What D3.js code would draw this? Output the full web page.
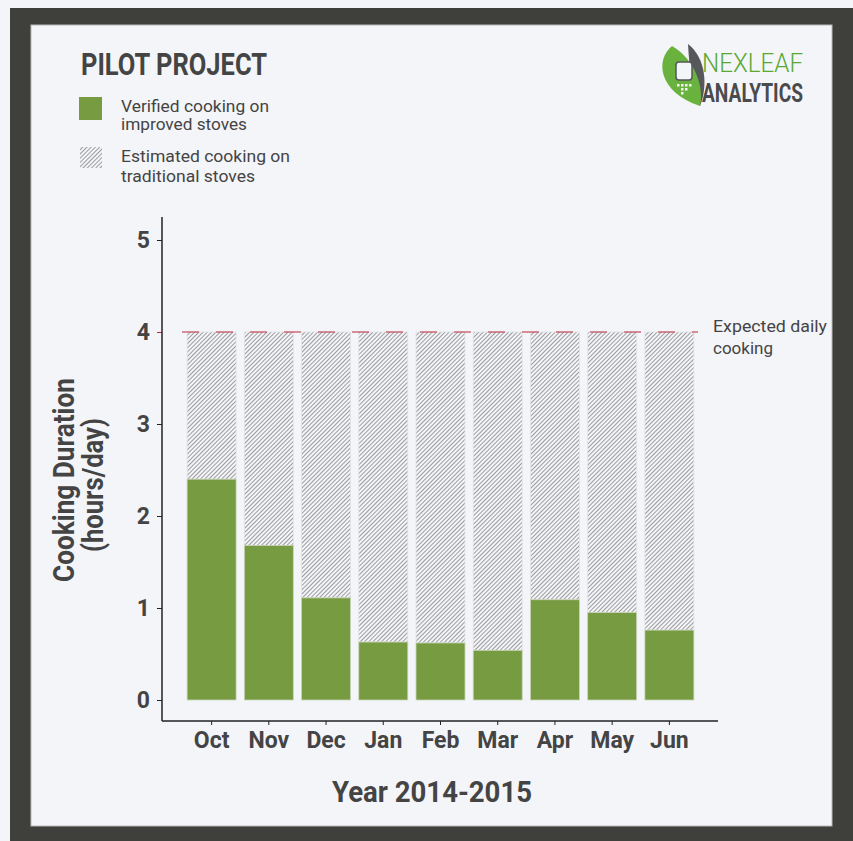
<!DOCTYPE html>
<html>
<head>
<meta charset="utf-8">
<script src="https://cdn.jsdelivr.net/npm/d3@7"></script>
<style>
  html, body { margin: 0; padding: 0; background: #f4f5f9; }
  svg { display: block; }
  text { font-family: Roboto, "Liberation Sans", sans-serif; fill: #444; }
</style>
</head>
<body>
<div id="container"></div>
<script>
const width = 853;
const height = 841;

// DATA
const months = ["Oct", "Nov", "Dec", "Jan", "Feb", "Mar", "Apr", "May", "Jun"];
const verified = [2.40, 1.68, 1.11, 0.63, 0.62, 0.54, 1.09, 0.95, 0.76];
const expectedDaily = 4;
const yTicks = [0, 1, 2, 3, 4, 5];

const green = "#769b40";
const dark = "#3f403c";
const panel = "#f4f5f9";

const svg = d3.select("div#container").append("svg")
    .attr("width", width)
    .attr("height", height);

// hatch pattern
const defs = svg.append("defs");
const pat = defs.append("pattern")
    .attr("id", "hatch")
    .attr("patternUnits", "userSpaceOnUse")
    .attr("width", 3)
    .attr("height", 3)
    .attr("patternTransform", "rotate(45)");
pat.append("rect").attr("width", 3).attr("height", 3).attr("fill", panel);
pat.append("line")
    .attr("x1", 0).attr("y1", 0).attr("x2", 0).attr("y2", 3)
    .attr("stroke", "#767676")
    .attr("stroke-width", 1.4);

// FRAME
svg.append("rect").attr("width", width).attr("height", height).attr("fill", panel);
svg.append("rect").attr("x", 10).attr("y", 8).attr("width", width - 10).attr("height", height - 8).attr("fill", dark);
svg.append("rect").attr("x", 31).attr("y", 25).attr("width", 801).attr("height", 801)
    .attr("fill", panel).attr("stroke", "#b9bab8").attr("stroke-width", 1);

// SCALES
const x = d3.scaleBand()
    .domain(months)
    .range([183, 698])
    .paddingInner(0.144)
    .paddingOuter(0.072);

const y = d3.scaleLinear()
    .domain([0, 5])
    .range([700, 240]);

// BARS
const bars = svg.append("g").selectAll("g")
    .data(months.map((m, i) => ({month: m, value: verified[i]})))
    .enter().append("g");

bars.append("rect")
    .attr("x", d => x(d.month))
    .attr("y", y(expectedDaily))
    .attr("width", x.bandwidth())
    .attr("height", d => y(d.value) - y(expectedDaily))
    .attr("fill", "url(#hatch)")
    .attr("stroke", "#e2e3e6")
    .attr("stroke-width", 0.8);

bars.append("rect")
    .attr("x", d => x(d.month))
    .attr("y", d => y(d.value))
    .attr("width", x.bandwidth())
    .attr("height", d => y(0) - y(d.value))
    .attr("fill", green)
    .attr("stroke", "#c9d3b8")
    .attr("stroke-width", 0.8);

// expected line
svg.append("line")
    .attr("x1", x.range()[0] - 1).attr("x2", x.range()[1])
    .attr("y1", y(expectedDaily)).attr("y2", y(expectedDaily))
    .attr("stroke", "#b8283f")
    .attr("stroke-width", 1.2)
    .attr("stroke-dasharray", "17,17");

svg.append("text")
    .attr("x", 713).attr("y", 332)
    .style("font-size", "16px")
    .attr("textLength", 114).attr("lengthAdjust", "spacingAndGlyphs")
    .text("Expected daily");
svg.append("text")
    .attr("x", 713).attr("y", 354)
    .style("font-size", "16px")
    .attr("textLength", 60).attr("lengthAdjust", "spacingAndGlyphs")
    .text("cooking");

// AXES
const yaxis = d3.axisLeft(y).tickValues(yTicks).tickFormat(d3.format("d"))
    .tickSize(5).tickPadding(7);
const gy = svg.append("g")
    .attr("transform", "translate(162,0)")
    .call(yaxis);
gy.select(".domain").remove();
gy.selectAll(".tick line").attr("stroke", d => d === expectedDaily ? "#b8283f" : "#222");
gy.selectAll(".tick text")
    .style("font-size", "23px").style("font-weight", "bold")
    .style("font-family", "Roboto, sans-serif")
    .attr("fill", "#444");

const xaxis = d3.axisBottom(x).tickSize(4).tickPadding(7);
const gx = svg.append("g")
    .attr("transform", "translate(0,721)")
    .call(xaxis);
gx.select(".domain").remove();
gx.selectAll(".tick line").attr("stroke", "#222");
gx.selectAll(".tick text")
    .style("font-size", "23px").style("font-weight", "bold")
    .style("font-family", "Roboto, sans-serif")
    .attr("fill", "#444");

svg.append("line").attr("x1", 162).attr("x2", 162).attr("y1", 217).attr("y2", 721)
    .attr("stroke", "#222").attr("stroke-width", 1.5);
svg.append("line").attr("x1", 162).attr("x2", 718).attr("y1", 721).attr("y2", 721)
    .attr("stroke", "#222").attr("stroke-width", 1.5);

// AXIS TITLES
svg.append("text")
    .attr("x", 432).attr("y", 802)
    .attr("text-anchor", "middle")
    .style("font-size", "29px").style("font-weight", "bold")
    .attr("textLength", 200).attr("lengthAdjust", "spacingAndGlyphs")
    .text("Year 2014-2015");

svg.append("text")
    .attr("transform", "translate(74,480) rotate(-90)")
    .attr("text-anchor", "middle")
    .style("font-size", "29px").style("font-weight", "bold")
    .attr("textLength", 204).attr("lengthAdjust", "spacingAndGlyphs")
    .text("Cooking Duration");
svg.append("text")
    .attr("transform", "translate(103,485) rotate(-90)")
    .attr("text-anchor", "middle")
    .style("font-size", "29px").style("font-weight", "bold")
    .attr("textLength", 134).attr("lengthAdjust", "spacingAndGlyphs")
    .text("(hours/day)");

// TITLE + LEGEND
svg.append("text")
    .attr("x", 81).attr("y", 75)
    .style("font-size", "31px").style("font-weight", "bold")
    .attr("textLength", 186).attr("lengthAdjust", "spacingAndGlyphs")
    .text("PILOT PROJECT");

svg.append("rect").attr("x", 79).attr("y", 97).attr("width", 23).attr("height", 23).attr("fill", green);
svg.append("rect").attr("x", 80).attr("y", 147).attr("width", 22).attr("height", 21).attr("fill", "url(#hatch)");

const legendLines = [
    ["Verified cooking on", 112, 148],
    ["improved stoves", 130, 126],
    ["Estimated cooking on", 162, 169],
    ["traditional stoves", 182, 134]
];
svg.append("g").selectAll("text")
    .data(legendLines)
    .enter().append("text")
    .attr("x", 121)
    .attr("y", d => d[1])
    .style("font-size", "16px")
    .attr("textLength", d => d[2]).attr("lengthAdjust", "spacingAndGlyphs")
    .text(d => d[0]);

// LOGO
const logo = svg.append("g");
logo.append("path")
    .attr("d", "M688,44 C706,58 708,86 700,106 C694,96 690,80 688,44 Z")
    .attr("fill", "#55575a");
logo.append("path")
    .attr("d", "M672,46 C655,60 658,92 700,106 C704,88 696,60 672,46 Z")
    .attr("fill", "#6ab23e");
logo.append("rect")
    .attr("x", 676).attr("y", 62).attr("width", 16).attr("height", 18).attr("rx", 3)
    .attr("fill", "#f4f5f9").attr("stroke", "#55575a").attr("stroke-width", 1.5);
[[677, 84], [681, 84], [685, 84], [689, 84], [681, 88], [685, 88], [681, 92]].forEach(p => {
    logo.append("rect").attr("x", p[0]).attr("y", p[1]).attr("width", 2.5).attr("height", 2.5).attr("fill", "#f4f5f9");
});
logo.append("text")
    .attr("x", 702).attr("y", 72)
    .style("font-size", "26px").style("font-weight", "300")
    .style("fill", "#5aa832")
    .attr("textLength", 101).attr("lengthAdjust", "spacingAndGlyphs")
    .text("NEXLEAF");
logo.append("text")
    .attr("x", 702).attr("y", 102)
    .style("font-size", "26px").style("font-weight", "bold")
    .style("fill", "#4a4b4d")
    .attr("textLength", 101).attr("lengthAdjust", "spacingAndGlyphs")
    .text("ANALYTICS");
</script>
</body>
</html>
